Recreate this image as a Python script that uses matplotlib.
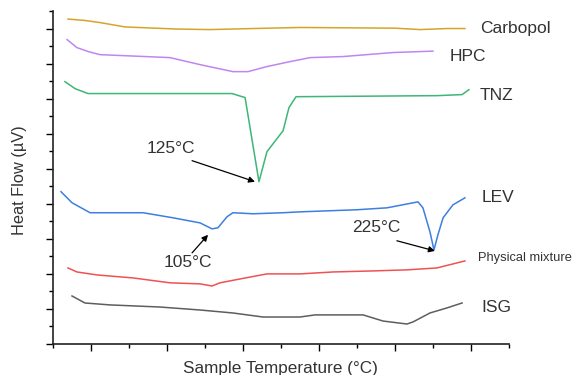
import matplotlib
matplotlib.use("Agg")
import matplotlib.pyplot as plt
from matplotlib.ticker import MultipleLocator

plt.rcParams['font.family'] = ['Liberation Sans', 'DejaVu Sans']

# ---- data (temperature in °C, heat flow in arbitrary offset units) ----
carbopol_T = [27.9, 36.8, 44.7, 57.9, 85.3, 102.6, 125.3, 150, 200, 213.2, 227.4, 236.8]
carbopol_H = [18.54, 18.46, 18.34, 18.09, 17.97, 17.94, 18.0, 18.06, 18.02, 17.94, 18.0, 18.0]

hpc_T = [27.4, 32.6, 38.4, 44.7, 81.6, 97.4, 114.7, 122.6, 132.6, 144.7, 155.3, 172.6, 198.9, 220]
hpc_H = [17.37, 16.91, 16.69, 16.51, 16.34, 15.94, 15.54, 15.54, 15.83, 16.11, 16.34, 16.40, 16.63, 16.71]

tnz_T = [26.3, 31.6, 38.4, 114.2, 121.1, 128.4, 132.6, 141.1, 144.2, 147.9, 222.1, 235.3, 238.9]
tnz_H = [14.97, 14.57, 14.29, 14.29, 14.06, 9.26, 10.97, 12.17, 13.49, 14.11, 14.17, 14.23, 14.51]

lev_T = [24.2, 30, 39.5, 67.4, 83.2, 97.4, 103.7, 106.8, 111.6, 114.7, 125.3, 141.1, 150,
         180, 195.8, 212.1, 214.7, 218.4, 220.5, 222.6, 225.3, 230.5, 236.8]
lev_H = [8.69, 8.06, 7.49, 7.49, 7.2, 6.91, 6.57, 6.63, 7.26, 7.49, 7.43, 7.49, 7.54,
         7.66, 7.77, 8.11, 7.77, 6.4, 5.37, 6.23, 7.2, 7.94, 8.34]

pm_T = [27.9, 32.6, 43.2, 62.1, 81.6, 97.4, 103.7, 107.9, 118.4, 132.6, 150, 167.4, 188.4, 206.3, 222.1, 236.8]
pm_H = [4.34, 4.11, 3.94, 3.77, 3.49, 3.43, 3.31, 3.49, 3.71, 4.0, 4.0, 4.11, 4.17, 4.23, 4.34, 4.74]

isg_T = [30, 36.8, 50, 76.3, 97.4, 114.7, 130.5, 150, 157.9, 183.2, 193.7, 206.3, 209.5, 218.4, 227.4, 235.3]
isg_H = [2.74, 2.34, 2.23, 2.11, 1.94, 1.77, 1.54, 1.54, 1.66, 1.66, 1.31, 1.14, 1.26, 1.77, 2.06, 2.34]

series = [
    ("Carbopol", carbopol_T, carbopol_H, "#D6A42C", (244.7, 18.0), 12.5),
    ("HPC", hpc_T, hpc_H, "#BF86F0", (228.9, 16.4), 12.5),
    ("TNZ", tnz_T, tnz_H, "#3DB677", (244.7, 14.17), 12.5),
    ("LEV", lev_T, lev_H, "#3D7FE0", (245.8, 8.34), 12.5),
    ("Physical mixture", pm_T, pm_H, "#F05252", (243.7, 4.91), 9.3),
    ("ISG", isg_T, isg_H, "#5E5E5E", (245.3, 2.11), 12.5),
]

annotations = [
    ("125°C", (82.1, 11.14), (93.2, 10.46), (126.3, 9.26)),
    ("105°C", (91.1, 4.63), (93.2, 5.2), (101.6, 6.23)),
    ("225°C", (190.0, 6.63), (201.0, 5.89), (221.0, 5.31)),
]

fig = plt.figure(figsize=(5.86, 3.75), dpi=100)
ax = fig.add_axes([53/586, 31/375, (509-53)/586, (344-11)/375])

text_color = "#333333"
for name, T, H, c, (lx, ly), fs in series:
    ax.plot(T, H, color=c, lw=1.1)
    ax.text(lx, ly, name, color=text_color, fontsize=fs, ha="left", va="center")

for label, (tx, ty), (sx, sy), (ex, ey) in annotations:
    ax.text(tx, ty, label, color=text_color, fontsize=12.5, ha="center", va="center")
    ax.annotate("", xy=(ex, ey), xytext=(sx, sy),
                arrowprops=dict(arrowstyle="-|>", color="black", lw=0.9, mutation_scale=9,
                                shrinkA=0, shrinkB=0))

ax.set_xlim(20, 260)
ax.set_ylim(0, 19)
ax.xaxis.set_major_locator(MultipleLocator(40))
ax.xaxis.set_minor_locator(MultipleLocator(20))
ax.yaxis.set_major_locator(MultipleLocator(2))
ax.yaxis.set_minor_locator(MultipleLocator(1))
ax.tick_params(which="major", direction="out", length=5, width=1, labelbottom=False, labelleft=False)
ax.tick_params(which="minor", direction="out", length=3, width=1)
ax.spines["top"].set_visible(False)
ax.spines["right"].set_visible(False)
for s in ("left", "bottom"):
    ax.spines[s].set_linewidth(1.2)
    ax.spines[s].set_color("#222222")

fig.text(280/586, 1 - 368/375, "Sample Temperature (°C)", ha="center", va="center",
         fontsize=12.3, color=text_color)
fig.text(20/586, 1 - 180/375, "Heat Flow (µV)", ha="center", va="center", rotation=90,
         fontsize=11.8, color=text_color)

fig.savefig("out.png", dpi=100)
